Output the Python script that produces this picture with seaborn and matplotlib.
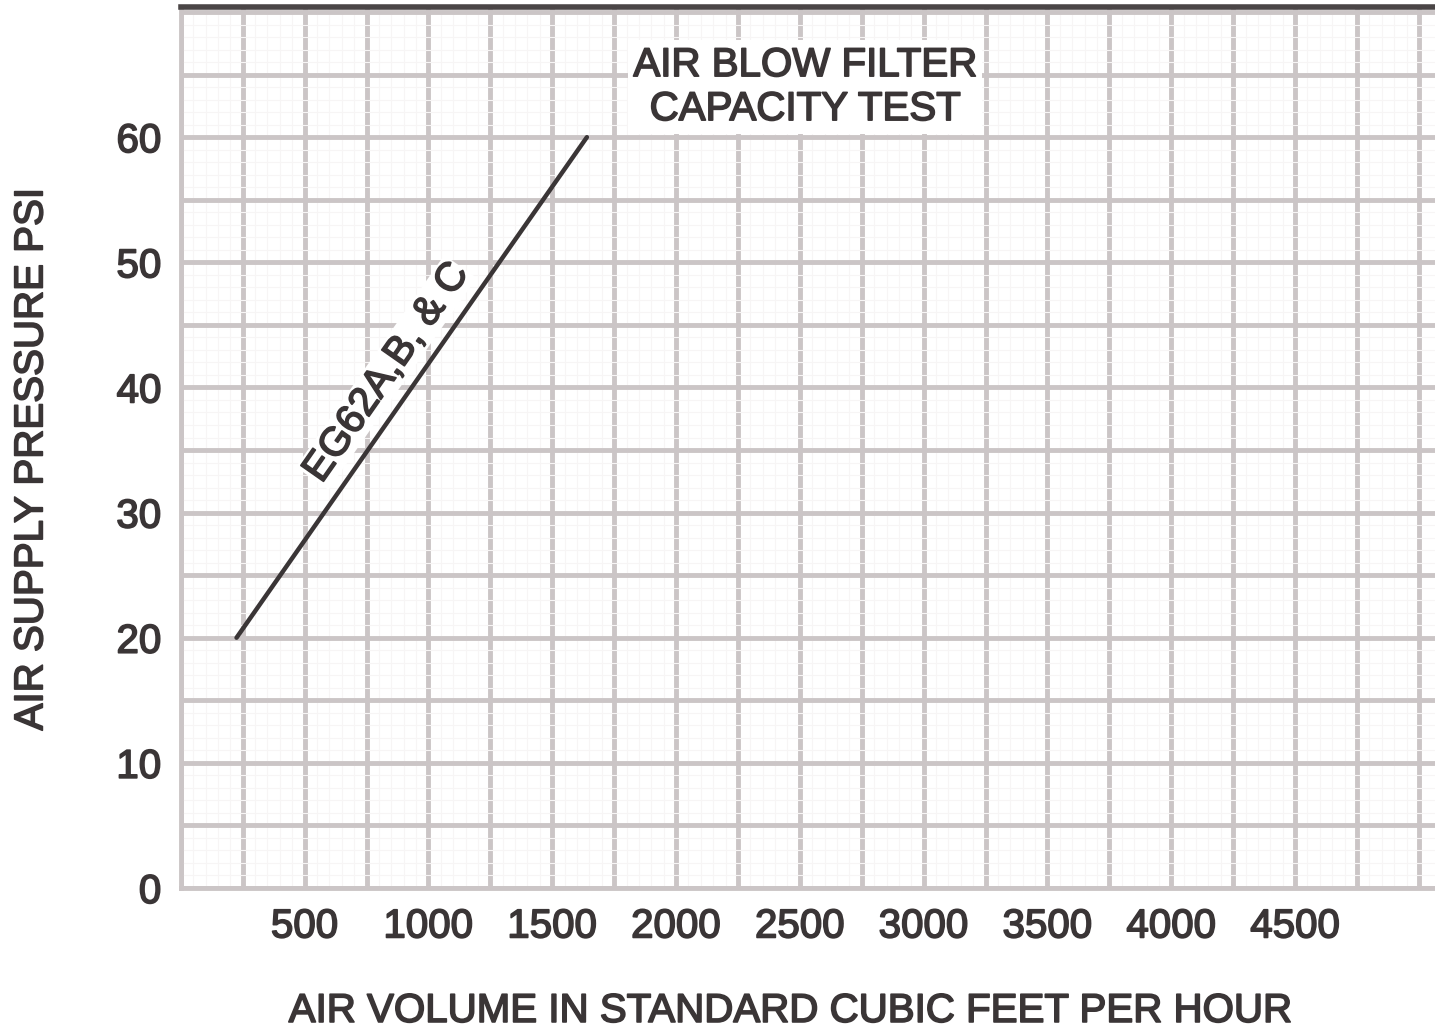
import numpy as np
import pandas as pd
import seaborn as sns
import matplotlib.pyplot as plt
import matplotlib.patheffects as pe

# data
air_volume = [225, 1640]        # SCFH
pressure = [20, 60]             # PSI
x_ticks = [500, 1000, 1500, 2000, 2500, 3000, 3500, 4000, 4500]
y_ticks = [0, 10, 20, 30, 40, 50, 60]
line_label = "EG62A,B, & C"
title = "AIR BLOW FILTER\nCAPACITY TEST"

df = pd.DataFrame({"volume": air_volume, "pressure": pressure})

sns.set_style("white")
plt.rcParams['font.family'] = ['Liberation Sans', 'DejaVu Sans']

fig = plt.figure(figsize=(14.35, 10.34), dpi=100)
ax = fig.add_axes([0.126, 0.1412, 0.874, 0.852])

grid_col = "#cbc5c6"
txt_col = "#3a3536"
thick = [pe.withStroke(linewidth=1.2, foreground=txt_col)]

# faint minor grid + major grid
ax.set_xticks(np.arange(0, 5001, 50), minor=True)
ax.set_yticks(np.arange(0, 71, 1), minor=True)
ax.set_xticks(np.arange(0, 5001, 250))
ax.set_yticks(np.arange(0, 71, 5))
ax.grid(True, which="minor", color="#f7f5f5", lw=0.8)
ax.grid(True, which="major", color=grid_col, lw=3.5)
ax.set_axisbelow(True)

sns.lineplot(data=df, x="volume", y="pressure", ax=ax, color=txt_col, lw=3.2)

ax.set_xlim(0, 5065)
ax.set_ylim(0, 70.4)

ax.set_xticklabels([str(v) if v in x_ticks else "" for v in np.arange(0, 5001, 250)],
                   fontsize=29, color=txt_col)
ax.set_yticklabels([str(v) if v in y_ticks else "" for v in np.arange(0, 71, 5)],
                   fontsize=29, color=txt_col)
ax.tick_params(which="both", length=0, pad=14)
for t in ax.get_xticklabels() + ax.get_yticklabels():
    t.set_path_effects(thick)

for s in ["left", "bottom"]:
    ax.spines[s].set_color(grid_col)
    ax.spines[s].set_linewidth(3.5)
ax.spines["right"].set_visible(False)
ax.spines["top"].set_color("#4a4546")
ax.spines["top"].set_linewidth(4)

ax.set_xlabel("AIR VOLUME IN STANDARD CUBIC FEET PER HOUR", fontsize=29,
              color=txt_col, path_effects=thick)
ax.set_ylabel("AIR SUPPLY PRESSURE PSI", fontsize=29, color=txt_col,
              path_effects=thick)
ax.xaxis.set_label_coords(0.485, -0.118)
ax.yaxis.set_label_coords(-0.104, 0.486)

ax.text(2520, 64.0, title, fontsize=29, color=txt_col, ha="center", va="center",
        linespacing=1.2, path_effects=thick,
        bbox=dict(facecolor="white", edgecolor="none", pad=4))

ax.text(830, 41.2, line_label, fontsize=29, color=txt_col, ha="center", va="center",
        rotation=55, rotation_mode="anchor", path_effects=thick,
        bbox=dict(facecolor="white", edgecolor="none", pad=0.5))

fig.savefig("out.png", dpi=100)
